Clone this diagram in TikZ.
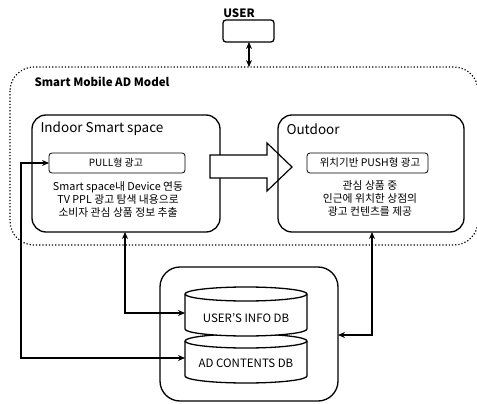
\documentclass[tikz,border=0pt]{standalone}
\usepackage{fontspec}
\setmainfont{Noto Sans CJK KR}
\usetikzlibrary{arrows.meta}
\tikzset{
  ln/.style={line width=1.3pt},
  arr/.style={ln,-{Stealth[length=7pt,width=6pt]}},
  darr/.style={ln,{Stealth[length=7pt,width=6pt]}-{Stealth[length=7pt,width=6pt]}},
  bigbox/.style={draw,ln,rounded corners=14pt},
  smallbox/.style={draw,line width=0.8pt,rounded corners=3pt,fill=white},
  body/.style={font=\fontsize{10.8}{13}\selectfont,align=center},
  dblabel/.style={font=\fontsize{11.5}{12}\selectfont},
}
\begin{document}
\begin{tikzpicture}[x=1pt,y=-1pt]
\useasboundingbox (0,0) rectangle (477,404);
% user
\node[font=\bfseries\fontsize{11.5}{12}\selectfont] (usertxt) at (239,13) {USER};
\draw[ln,rounded corners=3pt] (223,20) rectangle (274,42);
\coordinate (userb) at (249,42);
% model region
\draw[line width=1.2pt,dotted,rounded corners=24pt] (10,67) rectangle (478,245);
\coordinate (modelt) at (249,67);
\node[font=\bfseries\fontsize{11.5}{12}\selectfont,anchor=west] (modeltxt) at (31,82) {Smart Mobile AD Model};
\draw[darr] (userb) -- (modelt);
% indoor
\draw[bigbox] (32,115) rectangle (220,232);
\coordinate (indoorb) at (125,232);
\node[font=\fontsize{13.5}{14}\selectfont,anchor=west] (indoortxt) at (37,129) {Indoor Smart space};
\draw[smallbox] (49,153) rectangle (185,173);
\node[font=\fontsize{10}{11}\selectfont] (pull) at (116,163) {PULL형 광고};
\coordinate (pulll) at (49,163);
\node[body] (indoorbody) at (118,199) {Smart space내 Device 연동\\TV PPL 광고 탐색 내용으로\\소비자 관심 상품 정보 추출};
% big arrow
\draw[line width=1.2pt,fill=white,line join=miter] (210,155) -- (267,155) -- (267,143) -- (292,167) -- (267,191) -- (267,178) -- (210,178) -- cycle;
% outdoor
\draw[bigbox] (278,115) rectangle (464,232);
\coordinate (outdoorb) at (372,232);
\node[font=\fontsize{13.5}{14}\selectfont,anchor=west] (outdoortxt) at (283,129) {Outdoor};
\draw[smallbox] (307,153) rectangle (428,173);
\node[font=\fontsize{10.5}{11}\selectfont] (push) at (370,163) {위치기반 PUSH형 광고};
\node[body] (outdoorbody) at (370,198) {관심 상품 중\\인근에 위치한 상점의\\광고 컨텐츠를 제공};
% db container
\draw[ln,rounded corners=20pt] (160,267) rectangle (338,401);
\coordinate (dbr) at (338,335);
% cylinder 2
\draw[ln,fill=white] (185,341) -- (185,376) arc[start angle=180,end angle=0,x radius=61,y radius=7] -- (307,341) arc[start angle=0,end angle=-180,x radius=61,y radius=7] -- cycle;
\draw[ln] (185,341) arc[start angle=180,end angle=0,x radius=61,y radius=7];
\node[dblabel] (addb) at (246,363) {AD CONTENTS DB};
\coordinate (addbl) at (185,358);
% cylinder 1
\draw[ln,fill=white] (185,294) -- (185,329) arc[start angle=180,end angle=0,x radius=61,y radius=7] -- (307,294) arc[start angle=0,end angle=-180,x radius=61,y radius=7] -- cycle;
\draw[ln] (185,294) arc[start angle=180,end angle=0,x radius=61,y radius=7];
\node[dblabel] (userdb) at (246,318) {USER'S INFO DB};
\coordinate (userdbl) at (185,313);
% connectors
\draw[darr] (indoorb) -- (indoorb |- userdbl) -- (userdbl);
\draw[darr] (pulll) -- (21,163) -- (21,358) -- (addbl);
\draw[darr] (outdoorb) -- (outdoorb |- dbr) -- (dbr);
\end{tikzpicture}
\end{document}
